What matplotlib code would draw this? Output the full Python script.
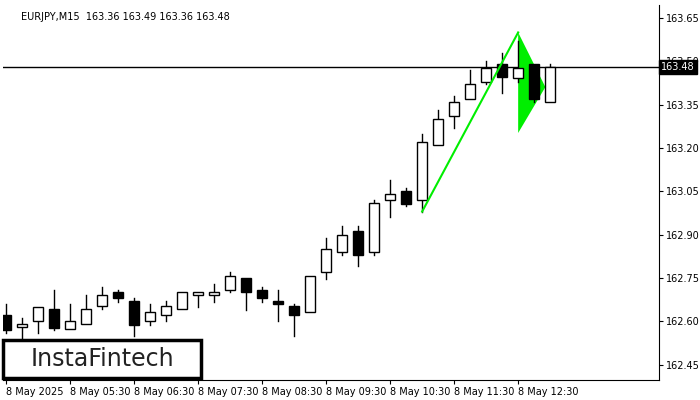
import matplotlib
matplotlib.use("Agg")
import matplotlib.pyplot as plt
from matplotlib.patches import Rectangle, Polygon

opens  = [162.622,162.58,162.60,162.643,162.574,162.59,162.653,162.70,162.67,162.60,162.622,162.643,162.69,162.69,162.71,162.75,162.71,162.67,162.653,162.633,162.77,162.84,162.913,162.84,163.02,163.05,163.02,163.21,163.31,163.37,163.43,163.49,163.443,163.49,163.36]
closes = [162.570,162.59,162.65,162.577,162.60,162.643,162.69,162.68,162.588,162.633,162.653,162.70,162.70,162.70,162.757,162.70,162.68,162.66,162.622,162.757,162.85,162.90,162.83,163.01,163.04,163.006,163.22,163.30,163.36,163.42,163.477,163.445,163.477,163.37,163.48]
highs  = [162.66,162.61,162.65,162.71,162.66,162.69,162.72,162.71,162.68,162.66,162.67,162.70,162.70,162.73,162.77,162.75,162.72,162.71,162.66,162.757,162.89,162.93,162.93,163.02,163.09,163.06,163.25,163.33,163.38,163.47,163.50,163.53,163.57,163.49,163.49]
lows   = [162.56,162.53,162.56,162.57,162.574,162.59,162.643,162.667,162.55,162.588,162.60,162.643,162.65,162.667,162.70,162.64,162.667,162.60,162.55,162.633,162.747,162.83,162.79,162.83,162.96,163.0,162.98,163.21,163.27,163.37,163.42,163.39,163.43,163.36,163.36]
xlabels = ["8 May 2025","8 May 05:30","8 May 06:30","8 May 07:30","8 May 08:30","8 May 09:30","8 May 10:30","8 May 11:30","8 May 12:30"]
xlabel_idx = [0,4,8,12,16,20,24,28,32]
yticks = [162.45,162.60,162.75,162.90,163.05,163.20,163.35,163.50,163.65]
pole = [(26,162.98),(32,163.60)]
flag = [(32,163.60),(32,163.252),(33.7,163.411)]
last = 163.48

fig = plt.figure(figsize=(7,4), dpi=100)
ax = fig.add_axes([3/700, 20/400, 656/700, 375/400])
ax.set_xlim(-0.19, 40.8)
ax.set_ylim(162.397, 163.695)
for i,(o,c,h,l) in enumerate(zip(opens,closes,highs,lows)):
    top, bot = max(o,c), min(o,c)
    ax.plot([i,i],[top,h],color='black',lw=1,zorder=2)
    ax.plot([i,i],[l,bot],color='black',lw=1,zorder=2)
    ax.add_patch(Rectangle((i-0.32,bot),0.64,max(top-bot,0.004),facecolor='black' if c<o else 'white',edgecolor='black',lw=1,zorder=3))
ax.plot([p[0] for p in pole],[p[1] for p in pole],color='#00ee00',lw=1.5,zorder=4)
ax.add_patch(Polygon(flag,closed=True,facecolor='#00ee00',edgecolor='none',zorder=1.5))
ax.axhline(last,color='black',lw=1,zorder=1)
ax.yaxis.tick_right()
ax.set_yticks(yticks)
ax.set_yticklabels([f"{v:.2f}" for v in yticks],fontsize=7)
ax.set_xticks(xlabel_idx)
ax.set_xticklabels(xlabels,fontsize=7,ha='left')
ax.tick_params(length=3,pad=2)
ax.spines['top'].set_visible(False)
ax.spines['left'].set_visible(False)
ax.text(1.003,(last-162.397)/(163.695-162.397),f"{last:.2f}",transform=ax.transAxes,fontsize=7,color='white',va='center',ha='left',
        bbox=dict(boxstyle='square,pad=0.2',fc='black',ec='black'),zorder=10,clip_on=False)
ax.text(18/656,1-7/375,"EURJPY,M15  163.36 163.49 163.36 163.48",transform=ax.transAxes,fontsize=7,va='top',ha='left')
fig.patches.append(Rectangle((3/700,1-378/400),198/700,38/400,transform=fig.transFigure,fc='white',ec='black',lw=2.5,zorder=20))
fig.text(102/700,1-359/400,"InstaFintech",fontsize=17,ha='center',va='center',color='#222222',zorder=21)
fig.savefig("out.png",dpi=100)
